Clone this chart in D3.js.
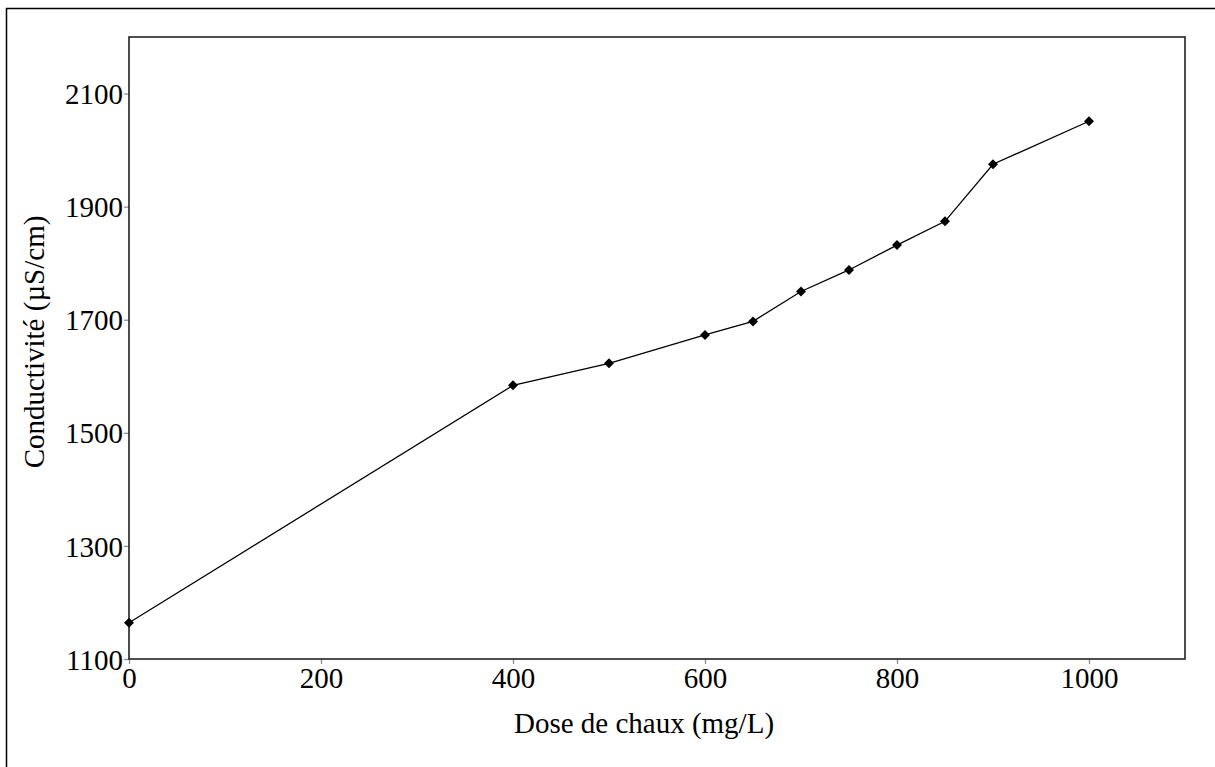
<!DOCTYPE html>
<html>
<head>
<meta charset="utf-8">
<script src="https://cdn.jsdelivr.net/npm/d3@7"></script>
<style>
  html, body { margin: 0; padding: 0; background: #fff; overflow: hidden; }
  svg { display: block; }
  text { font-family: "Liberation Serif", "Times New Roman", serif; fill: #000; }
</style>
</head>
<body>
<svg id="chart" width="1215" height="767"></svg>
<script>
// Lime dose (mg/L) and measured conductivity (µS/cm)
const doses = [0, 400, 500, 600, 650, 700, 750, 800, 850, 900, 1000];
const conductivity = [1164, 1584, 1623, 1673, 1697, 1750, 1788, 1832, 1874, 1975, 2051];

const xTicks = [0, 200, 400, 600, 800, 1000];
const yTicks = [1100, 1300, 1500, 1700, 1900, 2100];
const xDomain = [0, 1100];
const yDomain = [1100, 2200];

const xLabel = "Dose de chaux (mg/L)";
const yLabel = "Conductivité (µS/cm)";

const svg = d3.select("#chart");
const margin = { left: 129, top: 37, right: 1185, bottom: 659 };
const fontSize = 29;

// Outer frame (open on the right and bottom edges of the page)
svg.append("rect")
  .attr("x", 6.5).attr("y", 8.5)
  .attr("width", 1240).attr("height", 800)
  .attr("fill", "none").attr("stroke", "#000").attr("stroke-width", 1.5);

const x = d3.scaleLinear().domain(xDomain).range([margin.left, margin.right]);
const y = d3.scaleLinear().domain(yDomain).range([margin.bottom, margin.top]);

// Axes with short outer ticks
const xAxis = svg.append("g")
  .attr("transform", `translate(0,${margin.bottom})`)
  .call(d3.axisBottom(x).tickValues(xTicks).tickSize(5).tickPadding(3).tickFormat(d3.format("d")));
const yAxis = svg.append("g")
  .attr("transform", `translate(${margin.left},0)`)
  .call(d3.axisLeft(y).tickValues(yTicks).tickSize(5).tickPadding(1).tickFormat(d3.format("d")));

[xAxis, yAxis].forEach(g => {
  g.select(".domain").remove();
  g.selectAll(".tick line").attr("stroke", "#888").attr("stroke-width", 1.2);
  g.selectAll(".tick text")
    .attr("font-family", "Liberation Serif, Times New Roman, serif")
    .attr("font-size", fontSize).attr("fill", "#000");
});
xAxis.selectAll(".tick text").attr("dy", "0.72em");
yAxis.selectAll(".tick text").attr("dy", "0.35em");

// Plot frame
svg.append("rect")
  .attr("x", margin.left).attr("y", margin.top)
  .attr("width", margin.right - margin.left)
  .attr("height", margin.bottom - margin.top)
  .attr("fill", "none").attr("stroke", "#222").attr("stroke-width", 1.6);

// Data line
const pts = doses.map((d, i) => [d, conductivity[i]]);
svg.append("path")
  .datum(pts)
  .attr("fill", "none").attr("stroke", "#000").attr("stroke-width", 1.3)
  .attr("d", d3.line().x(d => x(d[0])).y(d => y(d[1])));

// Diamond markers
svg.selectAll(".marker")
  .data(pts)
  .join("path")
  .attr("class", "marker")
  .attr("transform", d => `translate(${x(d[0])},${y(d[1])})`)
  .attr("d", d3.symbol(d3.symbolDiamond2, 64)())
  .attr("fill", "#000");

// Axis titles
svg.append("text")
  .attr("x", 644)
  .attr("y", 733)
  .attr("text-anchor", "middle")
  .attr("font-size", fontSize)
  .text(xLabel);

svg.append("text")
  .attr("transform", `translate(44,342) rotate(-90)`)
  .attr("text-anchor", "middle")
  .attr("font-size", fontSize)
  .text(yLabel);
</script>
</body>
</html>
